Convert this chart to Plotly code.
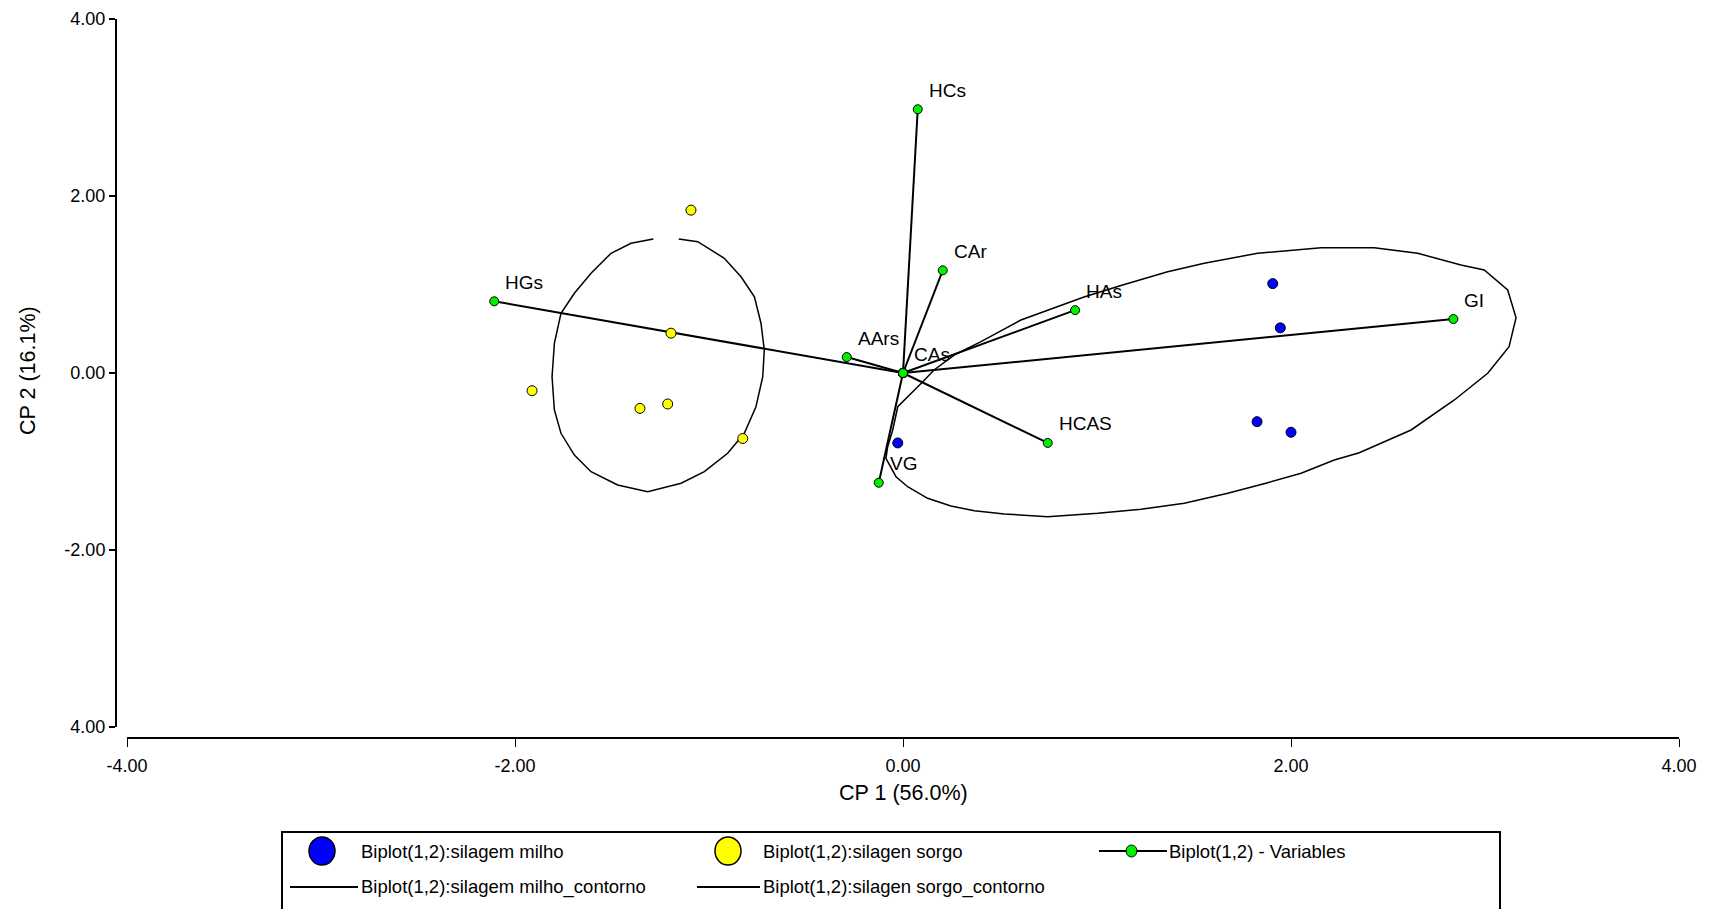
import plotly.graph_objects as go

# ---------------- data ----------------
x_tick_vals = [-4, -2, 0, 2, 4]
x_tick_text = ["-4.00", "-2.00", "0.00", "2.00", "4.00"]
y_tick_vals = [4, 2, 0, -2, -4]
y_tick_text = ["4.00", "2.00", "0.00", "-2.00", "4.00"]

x_title = "CP 1 (56.0%)"
y_title = "CP 2 (16.1%)"

# sample scores
milho_x = [1.906, 1.945, 1.825, 2.000, -0.027]
milho_y = [1.01, 0.51, -0.55, -0.67, -0.79]
sorgo_x = [-1.093, -1.196, -1.912, -1.356, -1.213, -0.826]
sorgo_y = [1.84, 0.45, -0.20, -0.40, -0.35, -0.74]

# variable loadings
var_names = ["HGs", "HCs", "CAr", "HAs", "AArs", "CAs", "HCAS", "VG", "GI"]
var_x = [-2.107, 0.076, 0.205, 0.887, -0.290, 0.000, 0.746, -0.125, 2.837]
var_y = [0.81, 2.98, 1.16, 0.71, 0.18, 0.00, -0.79, -1.24, 0.61]

# contours
milho_cont_x = [0.264, 0.402, 0.608, 0.763, 0.933, 1.132, 1.364, 1.553, 1.828, 2.155,
                2.429, 2.653, 2.876, 2.996, 3.117, 3.160, 3.124, 3.014, 2.842, 2.619,
                2.352, 2.223, 2.052, 1.880, 1.674, 1.450, 1.227, 1.004, 0.746, 0.522,
                0.368, 0.247, 0.127, 0.024, -0.036, -0.088, -0.079, -0.053, -0.027,
                0.102, 0.160, 0.264]
milho_cont_y = [0.203, 0.354, 0.599, 0.720, 0.859, 0.994, 1.145, 1.240, 1.353, 1.416,
                1.416, 1.353, 1.220, 1.164, 0.938, 0.625, 0.297, -0.003, -0.305, -0.644,
                -0.901, -0.983, -1.133, -1.240, -1.359, -1.472, -1.540, -1.585, -1.624, -1.593,
                -1.556, -1.503, -1.416, -1.285, -1.172, -0.964, -0.833, -0.644, -0.381,
                -0.098, 0.034, 0.203]
sorgo_cont_x = [-1.156, -1.058, -0.921, -0.835, -0.766, -0.732, -0.715, -0.723, -0.758,
                -0.818, -0.904, -1.024, -1.144, -1.316, -1.471, -1.608, -1.694, -1.763,
                -1.797, -1.809, -1.797, -1.763, -1.694, -1.608, -1.505, -1.402, -1.287]
sorgo_cont_y = [1.514, 1.484, 1.296, 1.088, 0.862, 0.562, 0.260, -0.042, -0.381,
                -0.681, -0.907, -1.115, -1.246, -1.341, -1.266, -1.115, -0.927, -0.681,
                -0.418, -0.042, 0.336, 0.675, 0.901, 1.127, 1.353, 1.466, 1.514]

legend_labels = ["Biplot(1,2):silagem milho", "Biplot(1,2):silagen sorgo",
                 "Biplot(1,2) - Variables", "Biplot(1,2):silagem milho_contorno",
                 "Biplot(1,2):silagen sorgo_contorno"]

# ---------------- layout helpers (page pixel -> paper) ----------------
PAGE_W, PAGE_H = 1711, 909
OFF = 8                      # default body margin of the html page
W, H = PAGE_W - OFF, PAGE_H - OFF
PL, PR, PT, PB = 116, 1679, 19, 738   # page pixels of the paper area


def fx(p):
    return (p - PL) / (PR - PL)


def fy(p):
    return (PB - p) / (PB - PT)


FONT = "Arial, Liberation Sans, sans-serif"
BLUE = "#0000FF"
YELLOW = "#FFFF00"
GREEN = "#00F000"

fig = go.Figure()

# contours
fig.add_trace(go.Scatter(x=milho_cont_x, y=milho_cont_y, mode="lines",
                         line=dict(color="black", width=1.5), name=legend_labels[3],
                         showlegend=False, hoverinfo="skip"))
fig.add_trace(go.Scatter(x=sorgo_cont_x, y=sorgo_cont_y, mode="lines",
                         line=dict(color="black", width=1.5), name=legend_labels[4],
                         showlegend=False, hoverinfo="skip"))

# variable vectors
vx, vy = [], []
for x, y in zip(var_x, var_y):
    vx += [0, x, None]
    vy += [0, y, None]
fig.add_trace(go.Scatter(x=vx, y=vy, mode="lines+markers", name=legend_labels[2],
                         line=dict(color="black", width=2),
                         marker=dict(color=GREEN, size=9, line=dict(color="black", width=1)),
                         showlegend=False))

# samples
fig.add_trace(go.Scatter(x=milho_x, y=milho_y, mode="markers", name=legend_labels[0],
                         marker=dict(color=BLUE, size=10, line=dict(color="black", width=1)),
                         showlegend=False))
fig.add_trace(go.Scatter(x=sorgo_x, y=sorgo_y, mode="markers", name=legend_labels[1],
                         marker=dict(color=YELLOW, size=10, line=dict(color="black", width=1)),
                         showlegend=False))

annotations = []
for n, x, y in zip(var_names, var_x, var_y):
    annotations.append(dict(x=x, y=y, xref="x", yref="y", text=n, showarrow=False,
                            xanchor="left", yanchor="middle", xshift=9, yshift=19,
                            font=dict(family=FONT, size=19, color="black")))

# axis titles
annotations.append(dict(x=fx(903), y=fy(793), xref="paper", yref="paper", text=x_title,
                        showarrow=False, xanchor="center", yanchor="middle",
                        font=dict(family=FONT, size=21.5, color="black")))
annotations.append(dict(x=fx(28), y=fy(371), xref="paper", yref="paper", text=y_title,
                        showarrow=False, xanchor="center", yanchor="middle", textangle=-90,
                        font=dict(family=FONT, size=21.5, color="black")))

# ---------------- manual legend ----------------
shapes = []
shapes.append(dict(type="rect", xref="paper", yref="paper", x0=fx(282), x1=fx(1500),
                   y0=fy(832), y1=fy(930), line=dict(color="black", width=2),
                   fillcolor="rgba(0,0,0,0)"))
row1, row2 = 851, 887
shapes.append(dict(type="circle", xref="paper", yref="paper", x0=fx(309), x1=fx(335),
                   y0=fy(row1 + 14), y1=fy(row1 - 14), fillcolor=BLUE,
                   line=dict(color="black", width=1.5)))
shapes.append(dict(type="circle", xref="paper", yref="paper", x0=fx(715), x1=fx(741),
                   y0=fy(row1 + 14), y1=fy(row1 - 14), fillcolor=YELLOW,
                   line=dict(color="black", width=1.5)))
shapes.append(dict(type="line", xref="paper", yref="paper", x0=fx(1099), x1=fx(1167),
                   y0=fy(row1), y1=fy(row1), line=dict(color="black", width=2)))
shapes.append(dict(type="circle", xref="paper", yref="paper", x0=fx(1126), x1=fx(1137),
                   y0=fy(row1 + 6), y1=fy(row1 - 6), fillcolor=GREEN,
                   line=dict(color="black", width=1)))
shapes.append(dict(type="line", xref="paper", yref="paper", x0=fx(290), x1=fx(358),
                   y0=fy(row2), y1=fy(row2), line=dict(color="black", width=2)))
shapes.append(dict(type="line", xref="paper", yref="paper", x0=fx(697), x1=fx(760),
                   y0=fy(row2), y1=fy(row2), line=dict(color="black", width=2)))

leg_pos = [(359, row1), (761, row1), (1167, row1), (359, row2), (761, row2)]
for lab, (lx, ly) in zip(legend_labels, leg_pos):
    annotations.append(dict(x=fx(lx), y=fy(ly), xref="paper", yref="paper", text=lab,
                            showarrow=False, xanchor="left", yanchor="middle",
                            font=dict(family=FONT, size=18.5, color="black")))

fig.update_layout(
    width=W, height=H,
    margin=dict(l=PL - OFF, r=PAGE_W - PR, t=PT - OFF, b=PAGE_H - PB, pad=0),
    paper_bgcolor="white", plot_bgcolor="white",
    showlegend=False,
    font=dict(family=FONT, color="black"),
    xaxis=dict(domain=[fx(127), 1], range=[-4, 4], anchor="free", position=0,
               showline=True, linecolor="black", linewidth=2, ticks="outside",
               ticklen=8, tickwidth=1, tickcolor="black", tickvals=x_tick_vals,
               ticktext=x_tick_text, tickfont=dict(family=FONT, size=18, color="black"),
               showgrid=False, zeroline=False, automargin=False, ticklabelstandoff=3),
    yaxis=dict(domain=[fy(727), 1], range=[-4, 4], anchor="free", position=0,
               showline=True, linecolor="black", linewidth=2, ticks="outside",
               ticklen=6, tickwidth=2, tickcolor="black", tickvals=y_tick_vals,
               ticktext=y_tick_text, tickfont=dict(family=FONT, size=18, color="black"),
               showgrid=False, zeroline=False, automargin=False),
    annotations=annotations,
    shapes=shapes,
)

fig.write_html("out.html")
